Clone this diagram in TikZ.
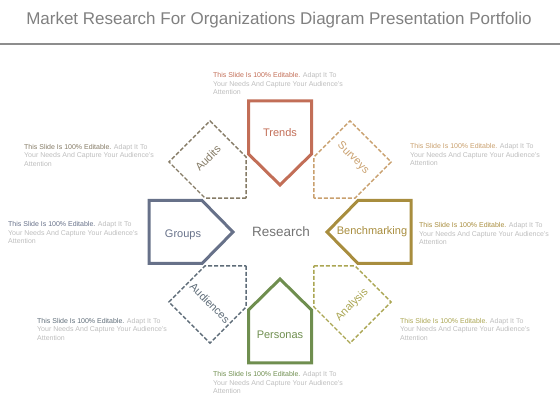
\documentclass[tikz,border=0pt]{standalone}
\usepackage{fontspec}
\setmainfont{Liberation Sans}
\usetikzlibrary{positioning}

\definecolor{trendscol}{HTML}{C26E57}
\definecolor{auditscol}{HTML}{857B66}
\definecolor{surveyscol}{HTML}{C9A06E}
\definecolor{groupscol}{HTML}{677189}
\definecolor{benchcol}{HTML}{A88D3E}
\definecolor{audiencescol}{HTML}{5E6C78}
\definecolor{analysiscol}{HTML}{ABA653}
\definecolor{personascol}{HTML}{6F8E4F}
\definecolor{notecol}{HTML}{BDBDBD}
\definecolor{titlecol}{HTML}{808080}

\newcommand{\notetext}[1]{{\color{#1}This Slide Is 100\% Editable.} Adapt It To\\Your Needs And Capture Your Audience's\\Attention}

\begin{document}
\begin{tikzpicture}[x=1pt,y=1pt]
\tikzstyle{solidpetal}=[line width=3pt,line join=miter]
\tikzstyle{dashpetal}=[line width=1.4pt,dash pattern=on 4pt off 2pt]
\tikzstyle{lbl}=[font=\fontsize{11}{13}\selectfont,inner sep=0pt]
\tikzstyle{note}=[font=\fontsize{7}{8.5}\selectfont,align=left,anchor=north west,
inner sep=0pt,text=notecol]
\useasboundingbox (0,0) rectangle (560,420);

% title and rule
\node[font=\fontsize{17}{20}\selectfont,text=titlecol] (title) at (279,400) {Market Research For Organizations Diagram Presentation Portfolio};
\draw[line width=2pt,color=titlecol!90] (0,376) -- (560,376);

% solid pentagons
\draw[solidpetal,trendscol,shift={(280,188)},rotate=90] (47,0) -- (78,31.5) -- (131,31.5) -- (131,-31.5) -- (78,-31.5) -- cycle;
\draw[solidpetal,groupscol,shift={(280,188)},rotate=180] (47,0) -- (78,31.5) -- (131,31.5) -- (131,-31.5) -- (78,-31.5) -- cycle;
\draw[solidpetal,benchcol,shift={(280,188)},rotate=0] (47,0) -- (78,31.5) -- (131,31.5) -- (131,-31.5) -- (78,-31.5) -- cycle;
\draw[solidpetal,personascol,shift={(280,188)},rotate=270] (47,0) -- (78,31.5) -- (131,31.5) -- (131,-31.5) -- (78,-31.5) -- cycle;

% dashed pentagons
\draw[dashpetal,auditscol,shift={(280,188)},rotate=135] (48,0) -- (77,29) -- (128,29) -- (128,-29) -- (77,-29) -- cycle;
\draw[dashpetal,surveyscol,shift={(280,188)},rotate=45] (48,0) -- (77,29) -- (128,29) -- (128,-29) -- (77,-29) -- cycle;
\draw[dashpetal,audiencescol,shift={(280,188)},rotate=225] (48,0) -- (77,29) -- (128,29) -- (128,-29) -- (77,-29) -- cycle;
\draw[dashpetal,analysiscol,shift={(280,188)},rotate=315] (48,0) -- (77,29) -- (128,29) -- (128,-29) -- (77,-29) -- cycle;

% labels
\node[font=\fontsize{13.5}{16}\selectfont,text=titlecol!110,inner sep=0pt] (research) at (281,188) {Research};
\node[lbl,text=trendscol] (trends) at (280,287) {Trends};
\node[lbl,text=groupscol] (groups) at (183,185) {Groups};
\node[lbl,text=benchcol] (bench) at (372,188) {Benchmarking};
\node[lbl,text=personascol] (personas) at (280,85) {Personas};
\node[lbl,text=auditscol,rotate=45] (audits) at (208,262) {Audits};
\node[lbl,text=surveyscol,rotate=-45] (surveys) at (353,262) {Surveys};
\node[lbl,text=audiencescol,rotate=-45] (audiences) at (210,117) {Audiences};
\node[lbl,text=analysiscol,rotate=45] (analysis) at (352,115) {Analysis};

% notes
\node[note] (ntrends) at (213,347.6) {\notetext{trendscol}};
\node[note] (naudits) at (24,276) {\notetext{auditscol}};
\node[note] (ngroups) at (8,198.5) {\notetext{groupscol}};
\node[note] (nsurveys) at (410,276.5) {\notetext{surveyscol}};
\node[note] (nbench) at (419,197.5) {\notetext{benchcol}};
\node[note] (naudiences) at (37,102) {\notetext{audiencescol}};
\node[note] (nanalysis) at (400,102) {\notetext{analysiscol}};
\node[note] (npersonas) at (213,48.3) {\notetext{personascol}};

\end{tikzpicture}
\end{document}
